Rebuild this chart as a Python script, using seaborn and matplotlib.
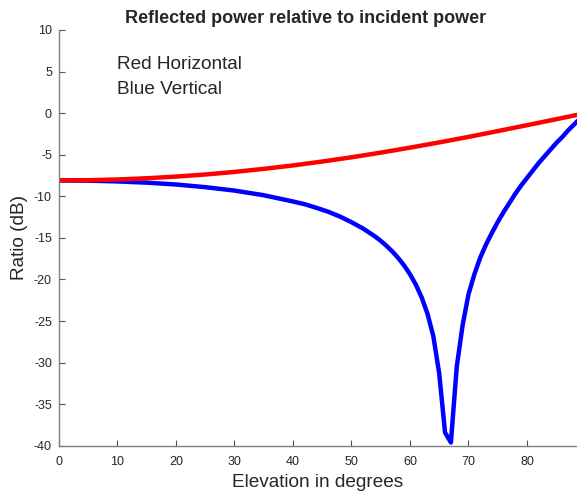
import pandas as pd
import seaborn as sns
import matplotlib.pyplot as plt

# values (elevation in degrees, ratio in dB)
elev_red = [0, 5, 10, 15, 20, 25, 30, 35, 40, 45, 50, 55, 60, 65, 70, 75, 80, 85, 89]
ratio_red = [-8.09, -8.06, -7.98, -7.83, -7.63, -7.38, -7.07, -6.70, -6.29, -5.82,
             -5.31, -4.75, -4.15, -3.52, -2.86, -2.16, -1.45, -0.73, -0.15]

elev_blue = [0, 5, 10, 15, 20, 25, 30, 35, 40, 42, 44, 46, 48, 50, 52, 54, 55, 56, 57,
             58, 59, 60, 61, 62, 63, 64, 65, 66, 67, 68, 69, 70, 71, 72, 73, 74, 75,
             76, 77, 78, 79, 80, 81, 82, 83, 84, 85, 86, 87, 88, 89]
ratio_blue = [-8.09, -8.12, -8.21, -8.36, -8.58, -8.90, -9.31, -9.87, -10.62, -10.95,
              -11.38, -11.85, -12.42, -13.11, -13.88, -14.81, -15.35, -15.96, -16.64,
              -17.42, -18.31, -19.36, -20.61, -22.15, -24.12, -26.83, -31.3, -38.4,
              -39.6, -30.5, -25.5, -21.8, -19.4, -17.4, -15.8, -14.4, -13.1, -11.9,
              -10.8, -9.7, -8.7, -7.8, -6.9, -6.0, -5.2, -4.4, -3.6, -2.9, -2.1,
              -1.4, -0.7]

red_df = pd.DataFrame({"elev": elev_red, "ratio": ratio_red})
blue_df = pd.DataFrame({"elev": elev_blue, "ratio": ratio_blue})

sns.set_style("white")
plt.rcParams['font.family'] = ['Liberation Sans', 'DejaVu Sans']
plt.rcParams['axes.unicode_minus'] = False

fig = plt.figure(figsize=(5.77, 4.91), dpi=100)
ax = fig.add_axes([0.102, 0.092, 0.898, 0.847])

sns.lineplot(data=blue_df, x="elev", y="ratio", color="#0000ff", linewidth=3.2, ax=ax)
sns.lineplot(data=red_df, x="elev", y="ratio", color="#ff0000", linewidth=3.2, ax=ax)

ax.set_xlim(0, 88.55)
ax.set_ylim(-40, 10)
ax.set_xticks(range(0, 81, 10))
ax.set_yticks(range(-40, 11, 5))
ax.tick_params(direction="in", length=4, width=0.8, labelsize=9, colors="#555555",
               labelcolor="#262626", bottom=True, left=True, pad=5)
ax.tick_params(axis="x", pad=7)
sns.despine(ax=ax)
for s in ["left", "bottom"]:
    ax.spines[s].set_color("#7f7f7f")
    ax.spines[s].set_linewidth(1.0)

# title sits a little left of the axes centre in the reference
ax.set_title("Reflected power relative to incident power", fontsize=13,
             fontweight="bold", pad=5, x=0.477)
ax.set_xlabel("Elevation in degrees", fontsize=13.7, labelpad=5, color="#262626")
ax.set_ylabel("Ratio (dB)", fontsize=13.7, labelpad=4, color="#262626")

ax.text(10, 5.9, "Red Horizontal", fontsize=13.7, va="center")
ax.text(10, 2.9, "Blue Vertical", fontsize=13.7, va="center")

plt.savefig("out.png", dpi=100)
